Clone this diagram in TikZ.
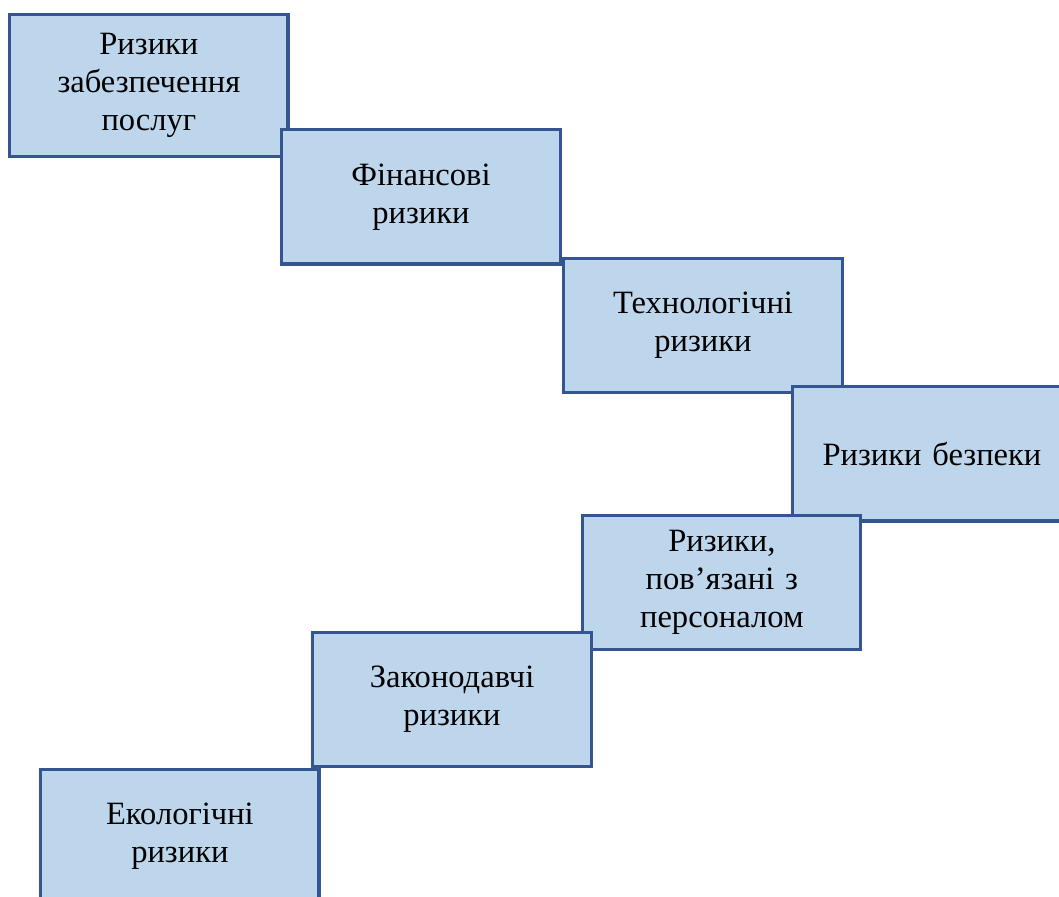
\documentclass[tikz,border=0pt]{standalone}
\usepackage{fontspec}
\setmainfont{Liberation Serif}
\usepackage{xcolor}
\usepackage{tikz}
\definecolor{boxfill}{RGB}{190,214,236}
\definecolor{boxline}{RGB}{52,85,145}
\tikzstyle{riskbox} = [rectangle, minimum width=7.36cm, minimum height=3.55cm, text centered, text width=6.8cm, align=center, draw=boxline, fill=boxfill, line width=2.3pt, font=\fontsize{24.5}{28.5}\selectfont]

\begin{document}
\begin{tikzpicture}[node distance=3.4cm]
\useasboundingbox (0,0) rectangle (28.02,-23.71);

\node (serv) [riskbox, minimum height=3.76cm] at (3.94,-2.26) {Ризики\\забезпечення\\послуг};
\node (fin) [riskbox, below of=serv, xshift=7.2cm, yshift=0.45cm] {Фінансові\\ризики};
\node (tech) [riskbox, below of=fin, xshift=7.46cm] {Технологічні\\ризики};
\node (sec) [riskbox, below of=tech, xshift=6.06cm] {Ризики безпеки};
\node (staff) [riskbox, below of=sec, xshift=-5.56cm] {Ризики,\\пов’язані з\\персоналом};
\node (law) [riskbox, below of=staff, xshift=-7.14cm, yshift=0.3cm] {Законодавчі\\ризики};
\node (eco) [riskbox, below of=law, xshift=-7.2cm, yshift=-0.22cm] {Екологічні\\ризики};

\end{tikzpicture}
\end{document}
